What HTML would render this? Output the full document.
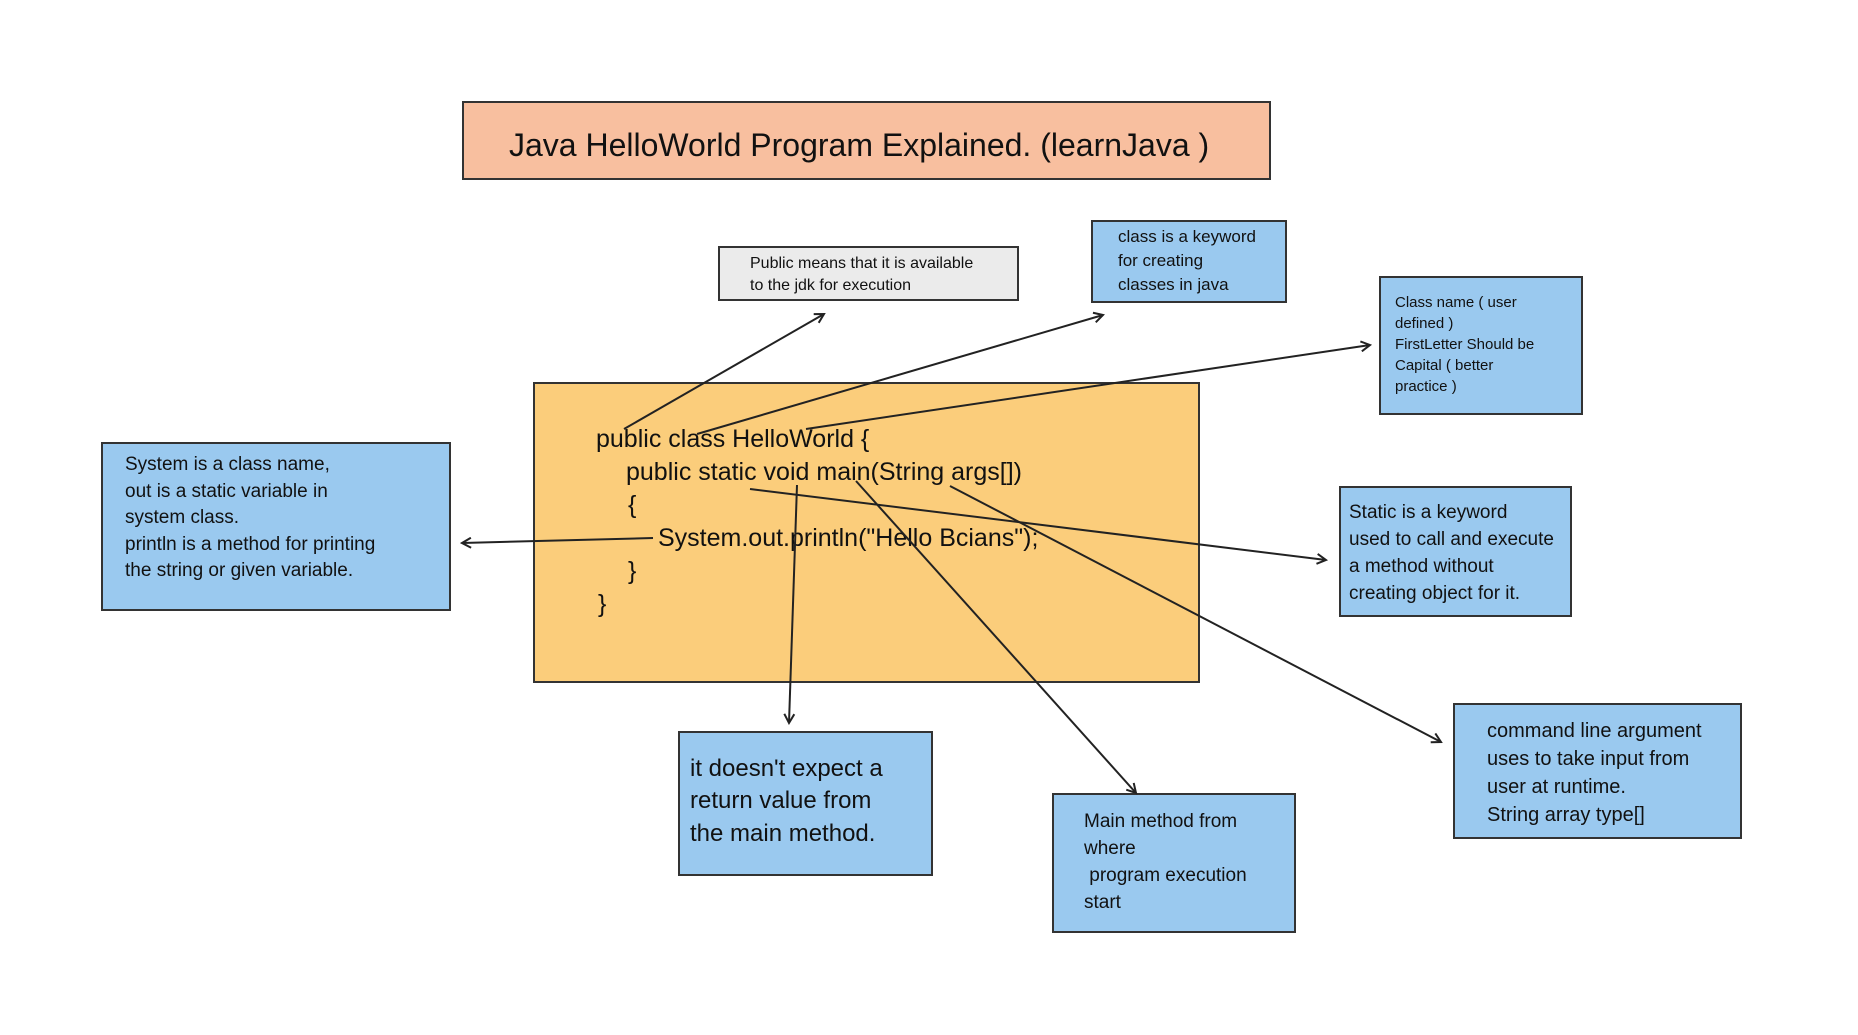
<!DOCTYPE html>
<html><head><meta charset="utf-8"><style>
body{margin:0;width:1858px;height:1035px;background:#fff;position:relative;overflow:hidden;font-family:"Liberation Sans Narrow","Liberation Sans",sans-serif;color:#111}
.b{position:absolute;box-sizing:border-box;border:2px solid #333;background:#9ac9ef;line-height:1.4}
.t{position:absolute;white-space:pre;font-size:25px}
</style></head><body>
<div class="b" style="left:462px;top:101px;width:809px;height:79px;background:#f8bf9f;font-size:32px;padding:20px 0 0 45px">Java HelloWorld Program Explained. (learnJava )</div>
<div class="b" style="left:718px;top:246px;width:301px;height:55px;background:#ebebeb;font-size:16px;line-height:1.35;padding:5px 0 0 30px">Public means that it is available<br>to the jdk for execution</div>
<div class="b" style="left:1091px;top:220px;width:196px;height:83px;font-size:17px;line-height:1.4;padding:3px 0 0 25px">class is a keyword<br>for creating<br>classes in java</div>
<div class="b" style="left:1379px;top:276px;width:204px;height:139px;font-size:15px;line-height:1.4;padding:14px 0 0 14px">Class name ( user<br>defined )<br>FirstLetter Should be<br>Capital ( better<br>practice )</div>
<div class="b" style="left:533px;top:382px;width:667px;height:301px;background:#fbcd7b"></div>
<div class="t" style="left:596px;top:425px">public class HelloWorld {</div>
<div class="t" style="left:626px;top:458px">public static void main(String args[])</div>
<div class="t" style="left:628px;top:491px">{</div>
<div class="t" style="left:658px;top:524px">System.out.println("Hello Bcians");</div>
<div class="t" style="left:628px;top:557px">}</div>
<div class="t" style="left:598px;top:590px">}</div>
<div class="b" style="left:101px;top:442px;width:350px;height:169px;font-size:19px;line-height:1.4;padding:8px 0 0 22px">System is a class name,<br>out is a static variable in<br>system class.<br>println is a method for printing<br>the string or given variable.</div>
<div class="b" style="left:1339px;top:486px;width:233px;height:131px;font-size:19px;line-height:1.42;padding:12px 0 0 8px">Static is a keyword<br>used to call and execute<br>a method without<br>creating object for it.</div>
<div class="b" style="left:678px;top:731px;width:255px;height:145px;font-size:24px;line-height:1.35;padding:20px 0 0 10px">it doesn't expect a<br>return value from<br>the main method.</div>
<div class="b" style="left:1052px;top:793px;width:244px;height:140px;font-size:19px;line-height:1.42;padding:14px 0 0 30px">Main method from<br>where<br>&nbsp;program execution<br>start</div>
<div class="b" style="left:1453px;top:703px;width:289px;height:136px;font-size:20px;line-height:1.4;padding:12px 0 0 32px">command line argument<br>uses to take input from<br>user at runtime.<br>String array type[]</div>
<svg style="position:absolute;left:0;top:0" width="1858" height="1035">
<defs><marker id="a" markerWidth="12" markerHeight="12" refX="10" refY="6" orient="auto" markerUnits="userSpaceOnUse"><path d="M1,1 L10,6 L1,11" fill="none" stroke="#222" stroke-width="2"/></marker></defs>
<g stroke="#222" stroke-width="2" fill="none" marker-end="url(#a)">
<line x1="624" y1="429" x2="824" y2="314"/>
<line x1="697" y1="434" x2="1103" y2="315"/>
<line x1="806" y1="429" x2="1370" y2="345"/>
<line x1="750" y1="489" x2="1326" y2="560"/>
<line x1="653" y1="538" x2="462" y2="543"/>
<line x1="797" y1="485" x2="789" y2="723"/>
<line x1="856" y1="481" x2="1136" y2="793"/>
<line x1="950" y1="486" x2="1441" y2="742"/>
</g></svg>
</body></html>
